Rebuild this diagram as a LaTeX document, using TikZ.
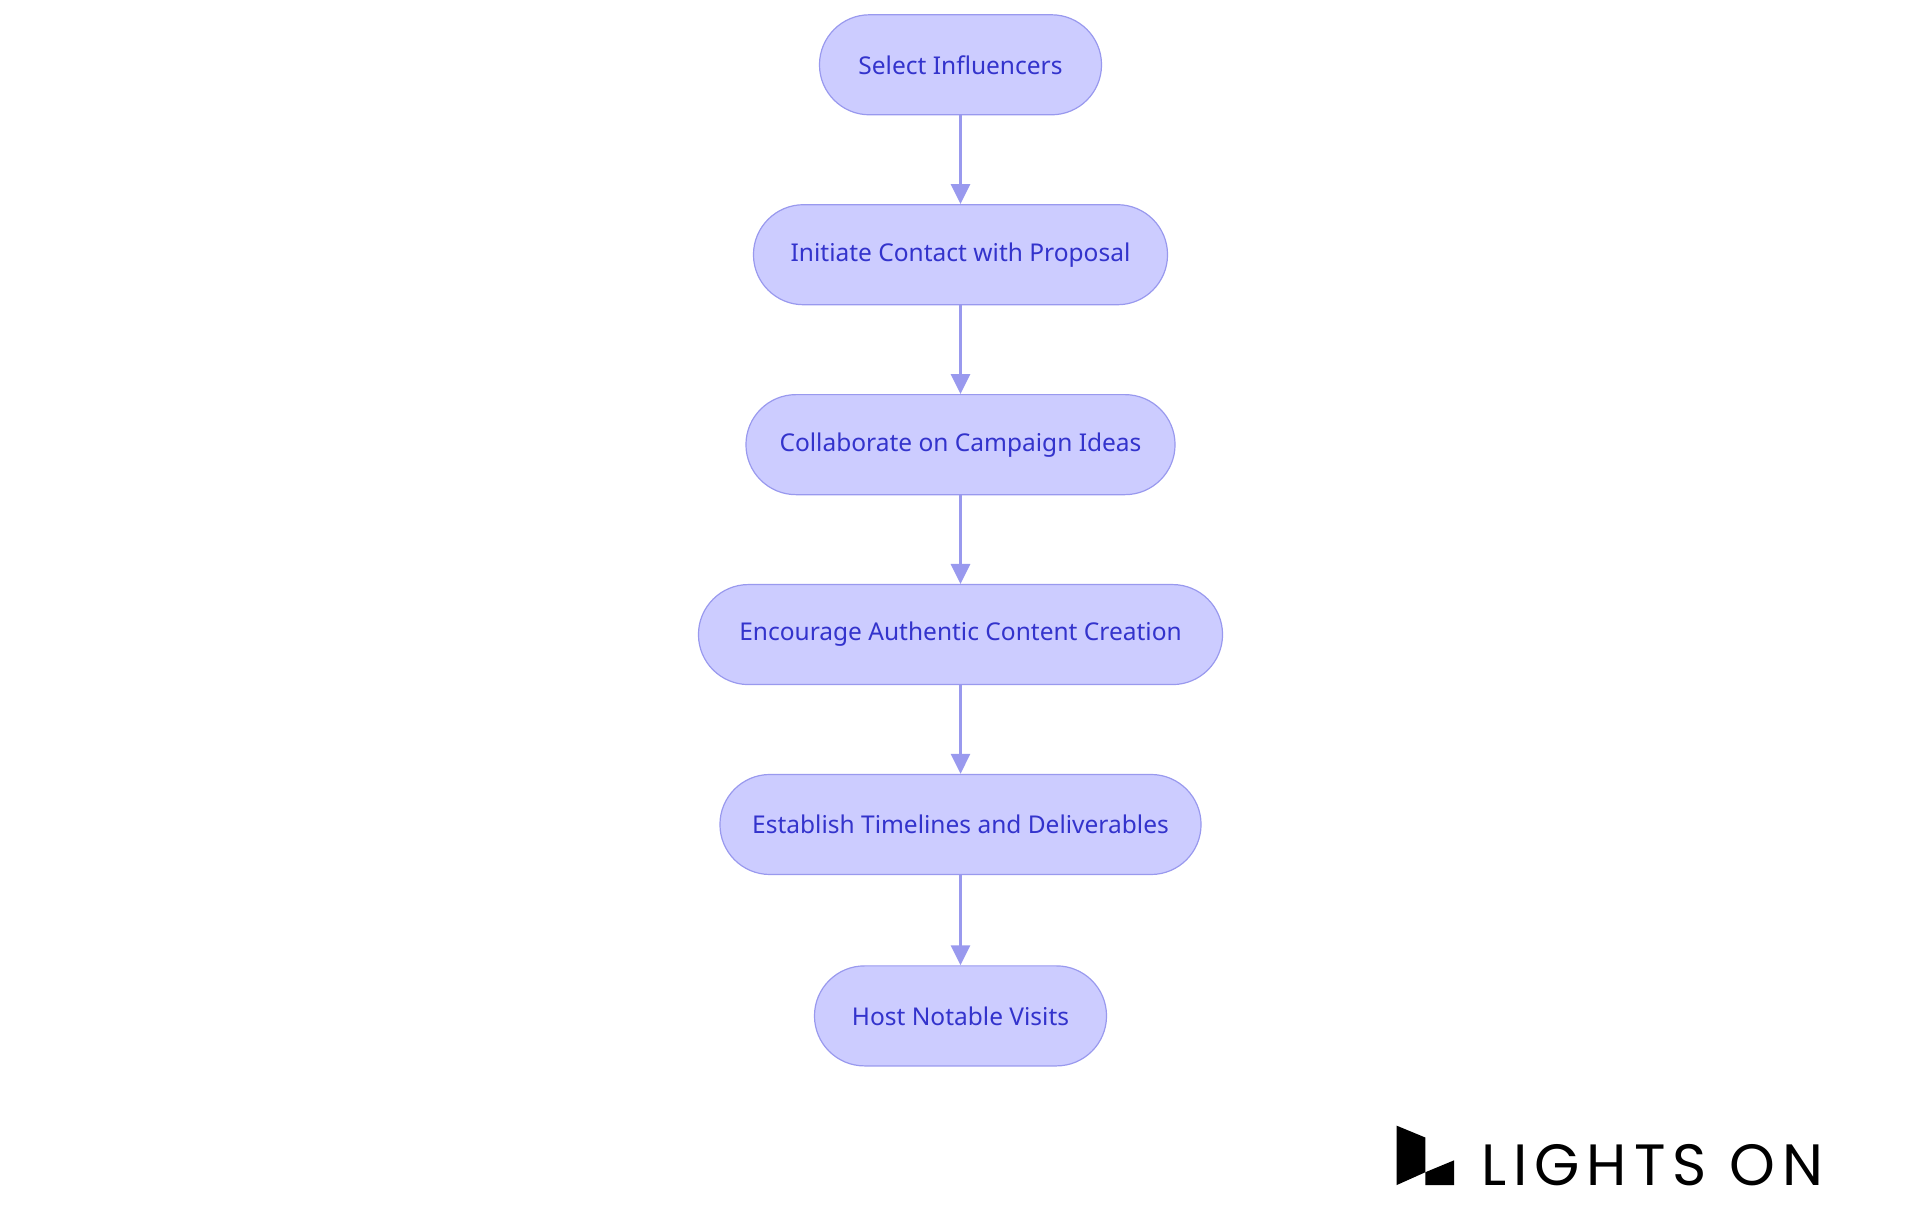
\documentclass[tikz,border=0pt]{standalone}
\usepackage{fontspec}
\usetikzlibrary{arrows.meta}
\setmainfont{Noto Sans}
\newfontfamily\logofont[LetterSpace=12]{Poppins}
\definecolor{boxfill}{HTML}{CCCCFF}
\definecolor{boxline}{HTML}{9999EE}
\definecolor{boxtext}{HTML}{3333CC}
\begin{document}
\begin{tikzpicture}[x=0.989pt,y=-0.989pt,
  stepbox/.style={draw=boxline,line width=1.2pt,fill=boxfill,rounded corners=50pt,
    minimum height=100pt,text=boxtext,font=\fontsize{24.5}{28}\selectfont,inner sep=0pt},
  flow/.style={draw=boxline,line width=3pt,-{Triangle[length=20pt,width=19pt]}}]
\useasboundingbox (0,0) rectangle (1941,1228);
\node[stepbox,minimum width=282pt] (n1) at (971,65.5) {Select Influencers};
\node[stepbox,minimum width=414pt] (n2) at (971,257.5) {Initiate Contact with Proposal};
\node[stepbox,minimum width=429pt] (n3) at (971,449.5) {Collaborate on Campaign Ideas};
\node[stepbox,minimum width=524pt] (n4) at (971,641.5) {Encourage Authentic Content Creation};
\node[stepbox,minimum width=481pt] (n5) at (971,833.5) {Establish Timelines and Deliverables};
\node[stepbox,minimum width=292pt] (n6) at (971,1027) {Host Notable Visits};
\draw[flow] (n1) -- (n2);
\draw[flow] (n2) -- (n3);
\draw[flow] (n3) -- (n4);
\draw[flow] (n4) -- (n5);
\draw[flow] (n5) -- (n6);
\fill[black] (1412,1138) -- (1441,1150) -- (1441,1185) -- (1412,1198) -- cycle;
\fill[black] (1441,1185) -- (1470,1173) -- (1470,1198) -- (1441,1198) -- cycle;
\node[anchor=base west,inner sep=0pt] (logo) at (1497,1198) {\resizebox{342pt}{!}{\logofont\fontsize{50}{50}\selectfont LIGHTS ON}};
\end{tikzpicture}
\end{document}
